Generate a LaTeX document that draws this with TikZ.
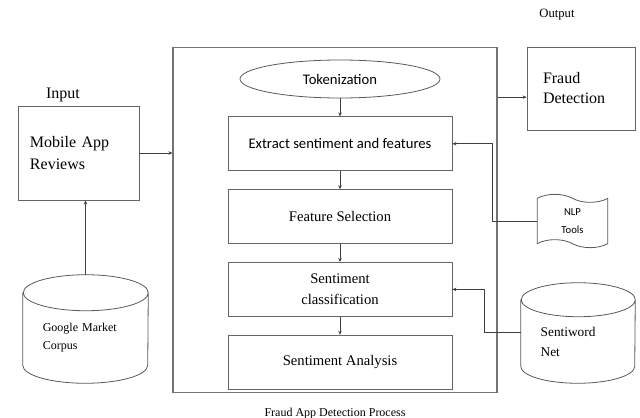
\documentclass[tikz,border=0pt]{standalone}
\usepackage{fontspec}
\setmainfont{Liberation Serif}
\newfontfamily\carlito{Carlito}
\usepackage{tikz}
\usetikzlibrary{positioning, arrows.meta, shapes.geometric, shapes.symbols}
\tikzset{
    box/.style = {rectangle, draw=black!60, line width=0.6pt, align=center},
    db/.style = {rectangle, inner sep=0pt, align=left},
    dbline/.style = {draw=black!65, line width=0.6pt},
    arrow/.style = {draw=black!75, line width=0.6pt, -{Stealth[length=3pt, width=2.6pt]}},
}

\begin{document}
\begin{tikzpicture}[
        x=0.75pt, y=-0.75pt,
        node distance=13.5pt,
        stage/.style={
            box,
            minimum width=168pt,
            minimum height=40.5pt,
            font=\fontsize{11}{13}\selectfont
        },
        io/.style={
            box,
            align=left,
            font=\fontsize{12}{15}\selectfont
        },
        tag/.style={
            inner sep=1pt
        }
    ]
        \useasboundingbox (0,0) rectangle (640,418);

        \node [box, draw=black!55, line width=0.8pt, minimum width=243pt, minimum height=258.75pt, inner sep=0pt] (process) at (335,220) {};
        \node [tag, below=10pt of process, font=\fontsize{9}{11}\selectfont] (caption) {Fraud App Detection Process};

        \node [ellipse, draw=black!65, line width=0.6pt, minimum width=150pt, minimum height=28.5pt, font=\carlito\fontsize{11}{13}\selectfont] (token) at (340,79) {Tokenization};
        \node [stage, below=of token, font=\carlito\fontsize{11}{13}\selectfont] (extract) {Extract sentiment and features};
        \node [stage, below=of extract] (select) {Feature Selection};
        \node [stage, below=of select] (classify) {Sentiment\\[3pt]classification};
        \node [stage, below=of classify] (analysis) {Sentiment Analysis};

        \node [io, minimum width=90.75pt, minimum height=70.5pt, text width=72.75pt, inner xsep=9pt] (mobile) at (78.5,153) {Mobile App\\[2pt]Reviews};
        \node [tag, font=\fontsize{12}{14}\selectfont] (inlbl) at (63,95) {Input};

        \node [io, minimum width=81pt, minimum height=62.25pt, text width=57pt, inner xsep=12pt] (fraud) at (581,88.5) {Fraud\\Detection};
        \node [tag, font=\fontsize{9.5}{11}\selectfont] (outlbl) at (557,15) {Output};

        \node [db, minimum width=93.75pt, minimum height=67.5pt, text width=64pt, font=\fontsize{9}{11}\selectfont] (google) at (85.5,338) {Google Market\\[2.5pt]Corpus};
        \draw [dbline] (google.north west) -- ([yshift=13.5pt]google.south west)
            arc [start angle=180, end angle=360, x radius=46.875pt, y radius=13.5pt]
            -- (google.north east)
            arc [start angle=0, end angle=360, x radius=46.875pt, y radius=13.5pt];
        \coordinate (googletop) at ([yshift=13.5pt]google.north);

        \node [db, minimum width=85.5pt, minimum height=62.25pt, text width=56pt, font=\fontsize{10}{12}\selectfont] (senti) at (578,341.5) {Sentiword\\[3pt]Net};
        \draw [dbline] (senti.north west) -- ([yshift=12.75pt]senti.south west)
            arc [start angle=180, end angle=360, x radius=42.75pt, y radius=12.75pt]
            -- (senti.north east)
            arc [start angle=0, end angle=360, x radius=42.75pt, y radius=12.75pt];
        \coordinate (sentiin) at ([yshift=7pt]senti.west);

        \node [tape, draw=black!65, line width=0.6pt, align=center, tape bend top=out and in, tape bend bottom=out and in, tape bend height=6pt, minimum width=53pt, minimum height=40pt, font=\carlito\fontsize{8}{10}\selectfont] (nlp) at (572.5,221) {NLP\\[4pt]Tools};

        \coordinate (fraudin) at ([yshift=-6.5pt]fraud.west);

        \draw [arrow] (token) -- (extract);
        \draw [arrow] (extract) -- (select);
        \draw [arrow] (select) -- (classify);
        \draw [arrow] (classify) -- (analysis);

        \draw [arrow] (mobile.east) -- (mobile.east -| process.west);
        \draw [arrow] (googletop) -- (googletop |- mobile.south);
        \draw [arrow] (fraudin -| process.east) -- (fraudin);
        \draw [arrow] (nlp.west) -- ++(-44,0) |- (extract.east);
        \draw [arrow] (sentiin) -- ++(-36,0) |- (classify.east);
    \end{tikzpicture}
\end{document}
